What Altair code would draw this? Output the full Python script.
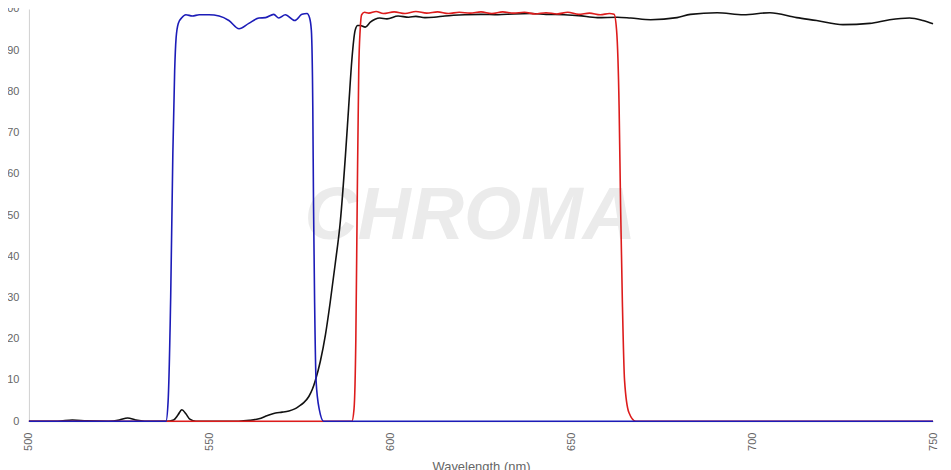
import altair as alt
import pandas as pd

# Blue band-pass filter
blue_wl = [500, 537.9, 538.5, 539.2, 539.8, 540.3, 540.7, 541.3, 542.2, 543.4, 545.2, 547.1,
           549.8, 552.6, 555.3, 558.1, 560.8, 563.6, 565.4, 567.7, 569.1, 570.9, 573.5, 575.5,
           576.9, 577.6, 578.1, 578.5, 578.7, 579.0, 579.4, 580.3, 581.5, 750]
blue_t = [0, 0, 5, 30, 65, 85, 93, 96.5, 97.8, 98.6, 98.3, 98.6,
          98.6, 98.3, 97.2, 95.2, 96.5, 97.8, 97.9, 98.7, 97.8, 98.6, 97.2, 98.7,
          98.9, 97.9, 94.8, 76, 52.4, 28.8, 9.9, 2.8, 0, 0]

# Black long-pass (dichroic)
black_wl = [500, 508, 512, 516, 522, 525, 527.3, 529.5, 532, 538, 540, 541.2, 542.3, 543.4,
            544.5, 546.2, 558, 561, 563.6, 566, 568.2, 570, 571.9, 573.5, 574.6, 576, 577.4,
            578.4, 579.2, 580.6, 582, 583.3, 584.7, 586.1, 587.5, 588.4, 589.3, 590.2, 590.9,
            591.6, 593, 594.4, 595.7, 597, 599, 602.1, 605, 607, 609.5, 612, 615, 620.5, 625,
            629.7, 634, 638.9, 643, 648, 652, 657.2, 662.7, 666.4, 671.9, 679.2, 682.9, 690.3,
            697.6, 704.9, 712.3, 717.8, 725.1, 732.5, 738, 743.5, 747.2, 750]
black_t = [0, 0, 0.3, 0.1, 0, 0.3, 0.8, 0.3, 0, 0, 0.3, 1.5, 2.8, 1.8,
           0.5, 0, 0, 0.2, 0.6, 1.4, 2.0, 2.2, 2.5, 3.0, 3.6, 4.5, 6.0,
           7.8, 9.9, 14.6, 21, 28.8, 38.2, 48.4, 64.2, 76, 87.7, 94.8, 96,
           96, 95.6, 96.8, 97.5, 97.8, 97.6, 98.3, 98.0, 98.2, 97.9, 98.0, 98.3, 98.6, 98.7,
           98.6, 98.8, 98.9, 98.7, 98.6, 98.4, 97.9, 98.0, 97.8, 97.4, 97.9, 98.7, 99.1,
           98.6, 99.1, 97.9, 97.2, 96.2, 96.5, 97.4, 97.8, 97.2, 96.4]

# Red band-pass filter
red_wl = [500, 589.3, 589.9, 590.4, 590.8, 591.2, 591.6, 592.0, 592.8, 594, 596, 598, 601,
          604, 607, 610, 613, 616, 619, 622, 625, 628, 631, 634, 637, 640, 643, 646, 649,
          652, 655, 658, 660.5, 661.8, 662.5, 663.2, 663.6, 664.1, 664.7, 665.9, 667.8, 750]
red_t = [0, 0, 3, 20, 55, 85, 95, 98.6, 99.2, 99.0, 99.4, 98.9, 99.3,
         98.9, 99.4, 99.0, 99.3, 98.9, 99.2, 99.0, 99.3, 98.9, 99.3, 99.0, 99.2, 98.8, 99.1, 98.8, 99.2,
         98.7, 99.0, 98.6, 98.9, 98.7, 94.8, 76, 52.4, 28.8, 9.9, 2.1, 0, 0]

x_ticks = [500, 550, 600, 650, 700, 750]
y_ticks = [0, 10, 20, 30, 40, 50, 60, 70, 80, 90, 100]

blue_df = pd.DataFrame({"wl": blue_wl, "t": blue_t})
black_df = pd.DataFrame({"wl": black_wl, "t": black_t})
red_df = pd.DataFrame({"wl": red_wl, "t": red_t})

x_enc = alt.X("wl:Q", scale=alt.Scale(domain=[500, 750], nice=False, zero=False),
              axis=alt.Axis(values=x_ticks, title="Wavelength (nm)", labelAngle=-90,
                            labelPadding=11, titlePadding=10))
y_enc = alt.Y("t:Q", scale=alt.Scale(domain=[0, 100], nice=False),
              axis=alt.Axis(values=y_ticks, title=None, labelPadding=10))

watermark = alt.Chart(pd.DataFrame({"label": ["CHROMA"]})).mark_text(
    font="Liberation Sans", fontStyle="italic", fontWeight="bold", fontSize=74,
    color="#ebebeb", align="center", baseline="middle"
).encode(x=alt.datum(622), y=alt.datum(49.5), text="label:N")

def line(df, color):
    return alt.Chart(df).mark_line(color=color, strokeWidth=1.6, interpolate="monotone").encode(
        x=x_enc, y=y_enc)

chart = alt.layer(
    watermark,
    line(black_df, "#111111"),
    line(red_df, "#dd1c1c"),
    line(blue_df, "#1c1cb8"),
).properties(
    width=908, height=414,
    autosize=alt.AutoSizeParams(type="none"),
    padding={"left": 21, "top": 0, "right": 10, "bottom": 50},
).configure_view(stroke=None).configure_axis(
    labelFont="Liberation Sans", labelFontSize=11, labelColor="#666666",
    titleFont="Liberation Sans", titleFontSize=13, titleColor="#666666", titleFontWeight="normal",
    gridColor="#e3e3e3", domainColor="#d0d0d0", ticks=False,
)

chart.save("out.html", embed_options={"renderer": "svg", "actions": False})
